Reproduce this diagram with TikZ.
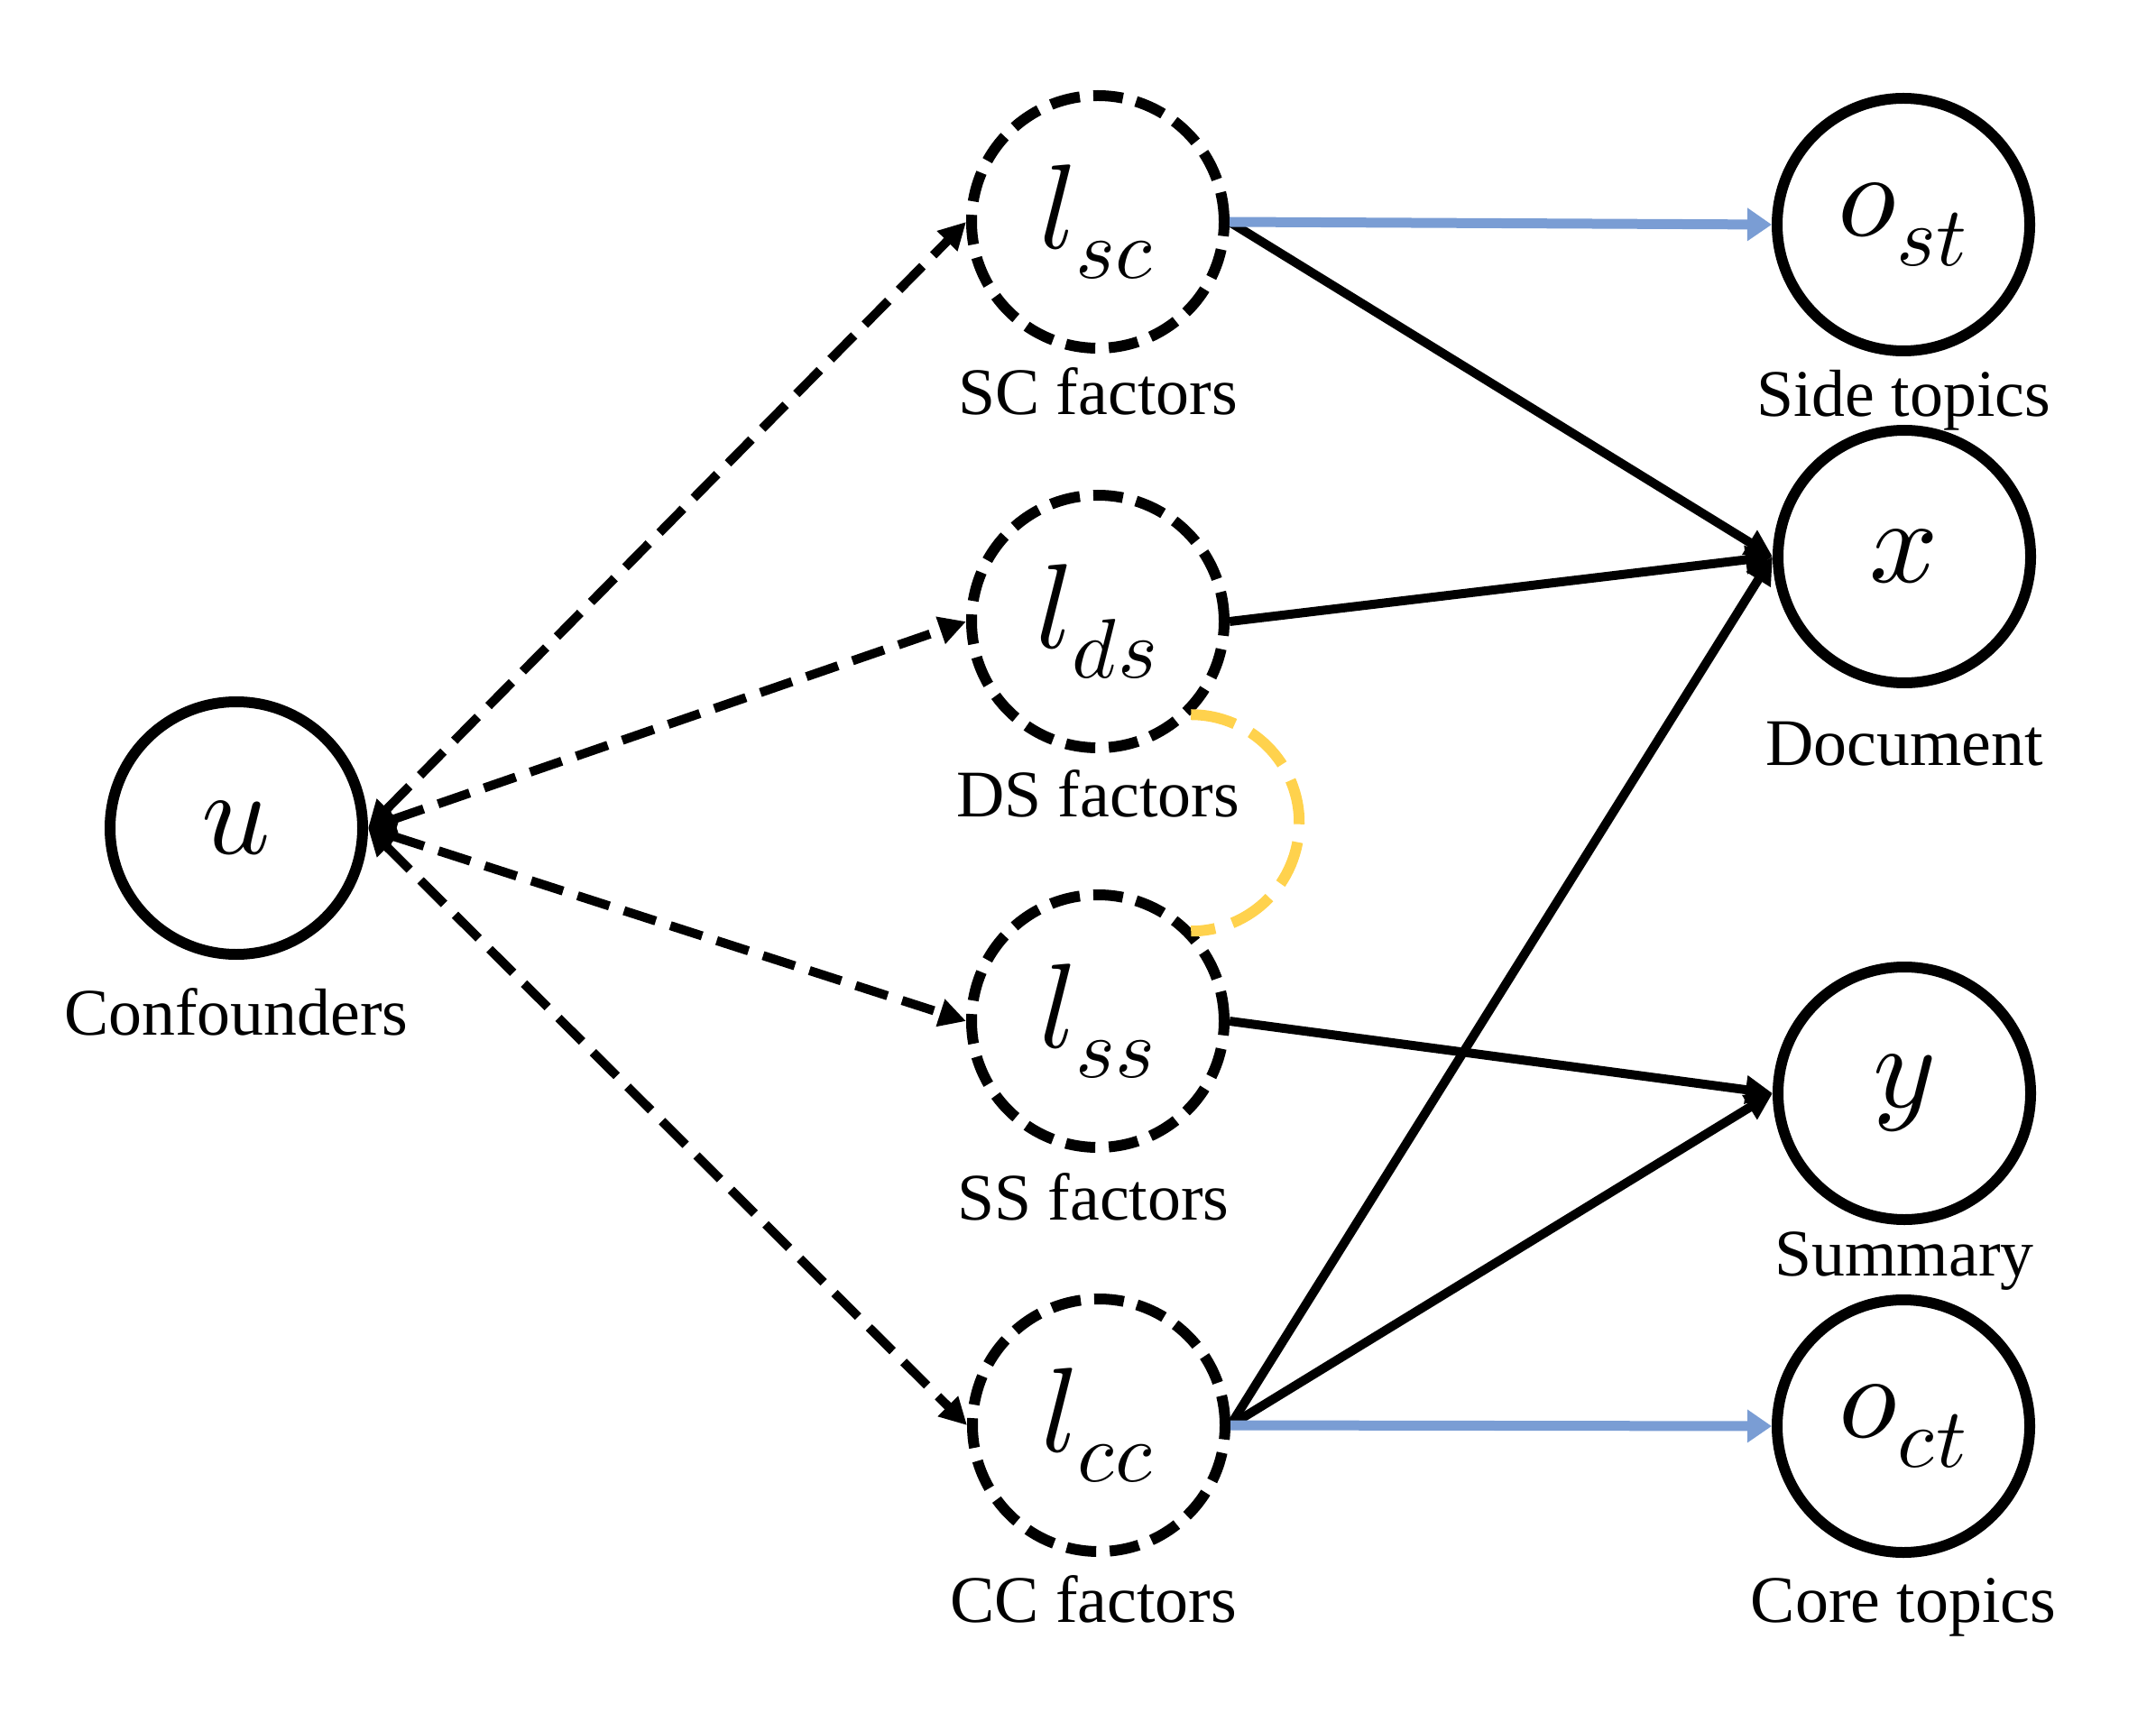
\documentclass[tikz,border=0pt]{standalone}
\usepackage{fontspec}
\usepackage{unicode-math}
\setmainfont{Liberation Serif}
\setmathfont{Latin Modern Math}
\usepackage{tikz}
\usetikzlibrary{arrows.meta}
\definecolor{topicblue}{RGB}{122,157,212}
\definecolor{linkyellow}{RGB}{255,210,77}
\newcommand{\thickness}{0.1cm}
\newcommand{\rad}{2.8cm}
\newcommand{\tip}{Triangle[length=0.3cm,width=0.3cm]}
\tikzset{
  var/.style={circle, draw, line width=0.12cm, minimum size=\rad, inner sep=0pt, font=\fontsize{38}{44}\selectfont},
  latent/.style={var, dash pattern=on 0.33cm off 0.15cm},
  caption/.style={anchor=base, font=\fontsize{21}{24}\selectfont},
  edge/.style={line width=\thickness, -{\tip}},
  confound/.style={line width=\thickness, {\tip}-{\tip}, dash pattern=on 0.37cm off 0.17cm},
  topic/.style={topicblue, line width=0.11cm, -{Triangle[length=0.27cm,width=0.35cm]}},
  corr/.style={linkyellow, line width=0.12cm, dash pattern=on 0.5cm off 0.2cm}
}

\begin{document}
\begin{tikzpicture}
\useasboundingbox (0,0) rectangle (23.9,18.98);
%variables
\node[var] (u) at (2.62, 9.80) {$u$};
\node[latent] (lsc) at (12.17, 16.52) {$l_{sc}$};
\node[latent] (lds) at (12.17, 12.09) {$l_{ds}$};
\node[latent] (lss) at (12.17, 7.66) {$l_{ss}$};
\node[latent] (lcc) at (12.18, 3.18) {$l_{cc}$};
\node[var] (ost) at (21.10, 16.49) {$o_{st}$};
\node[var] (x) at (21.11, 12.81) {$x$};
\node[var] (y) at (21.11, 6.86) {$y$};
\node[var] (oct) at (21.10, 3.17) {$o_{ct}$};
%captions
\node[caption] (capu) at (2.62, 7.51) {Confounders};
\node[caption] (capsc) at (12.17, 14.38) {SC factors};
\node[caption] (capds) at (12.17, 9.93) {DS factors};
\node[caption] (capss) at (12.12, 5.46) {SS factors};
\node[caption] (capcc) at (12.12, 1.00) {CC factors};
\node[caption] (capst) at (21.10, 14.36) {Side topics};
\node[caption] (capx) at (21.11, 10.50) {Document};
\node[caption] (capy) at (21.11, 4.84) {Summary};
\node[caption] (capct) at (21.10, 1.00) {Core topics};
%confounding
\draw[confound] (u.east) -- (lsc.west);
\draw[confound] (u.east) -- (lds.west);
\draw[confound] (u.east) -- (lss.west);
\draw[confound] (u.east) -- (lcc.west);
%generation
\draw[edge] (lsc.east) -- (x.west);
\draw[edge] (lds.east) -- (x.west);
\draw[edge] (lcc.east) -- (x.west);
\draw[edge] (lss.east) -- (y.west);
\draw[edge] (lcc.east) -- (y.west);
%topics
\draw[topic] (lsc.east) -- (ost.west);
\draw[topic] (lcc.east) -- (oct.west);
%correlation
\draw[corr] (lds.south east) arc[start angle=90, end angle=-90, radius=1.2cm];
\end{tikzpicture}
\end{document}
